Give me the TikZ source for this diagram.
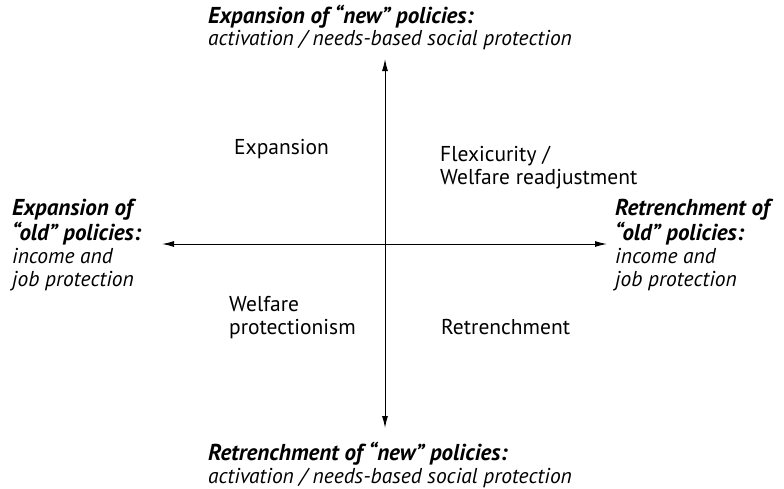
\documentclass[tikz,border=0pt]{standalone}
\usepackage{fontspec}
\setmainfont{PT Sans}
\usepackage{tikz}
\usetikzlibrary{arrows.meta}
\usetikzlibrary{positioning}
\tikzset{>={Latex[length=12pt,width=6pt]}}
\newcommand{\hd}[1]{{\fontsize{23}{22}\selectfont\bfseries\itshape #1}}
\newcommand{\sub}[1]{{\itshape #1}}
\tikzstyle{lab} = [draw=none, inner sep=0, align=left, anchor=base west, font=\fontsize{21.5}{23}\selectfont]

\begin{document}
\begin{tikzpicture}[x=1pt, y=-1pt]
\useasboundingbox (0,0) rectangle (784,488);
% axes
\coordinate (W) at (162,244);
\coordinate (E) at (607,244);
\coordinate (N) at (385,59);
\coordinate (S) at (385,428);
\draw [<->, line width=1pt] (W) to (E);
\draw [<->, line width=1pt] (N) to (S);
% axis ends (base = last line)
\node [lab, font=\fontsize{21.5}{22}\selectfont] (top) at (208,45) {\hd{Expansion of “new” policies:}\\\sub{activation / needs-based social protection}};
\node [lab] (bot) at (208,483) {\hd{Retrenchment of “new” policies:}\\\sub{activation / needs-based social protection}};
\node [lab] (left) at (12,286) {\hd{Expansion of}\\\hd{“old” policies:}\\\sub{income and}\\\sub{job protection}};
\node [lab] (right) at (615,286) {\hd{Retrenchment of}\\\hd{“old” policies:}\\\sub{income and}\\\sub{job protection}};
% quadrants
\node [lab] (exp) at (234,154) {Expansion};
\node [lab] (flex) at (440,184) {Flexicurity /\\Welfare readjustment};
\node [lab] (prot) at (229,334) {Welfare\\protectionism};
\node [lab] (retr) at (441,334) {Retrenchment};
\end{tikzpicture}
\end{document}
